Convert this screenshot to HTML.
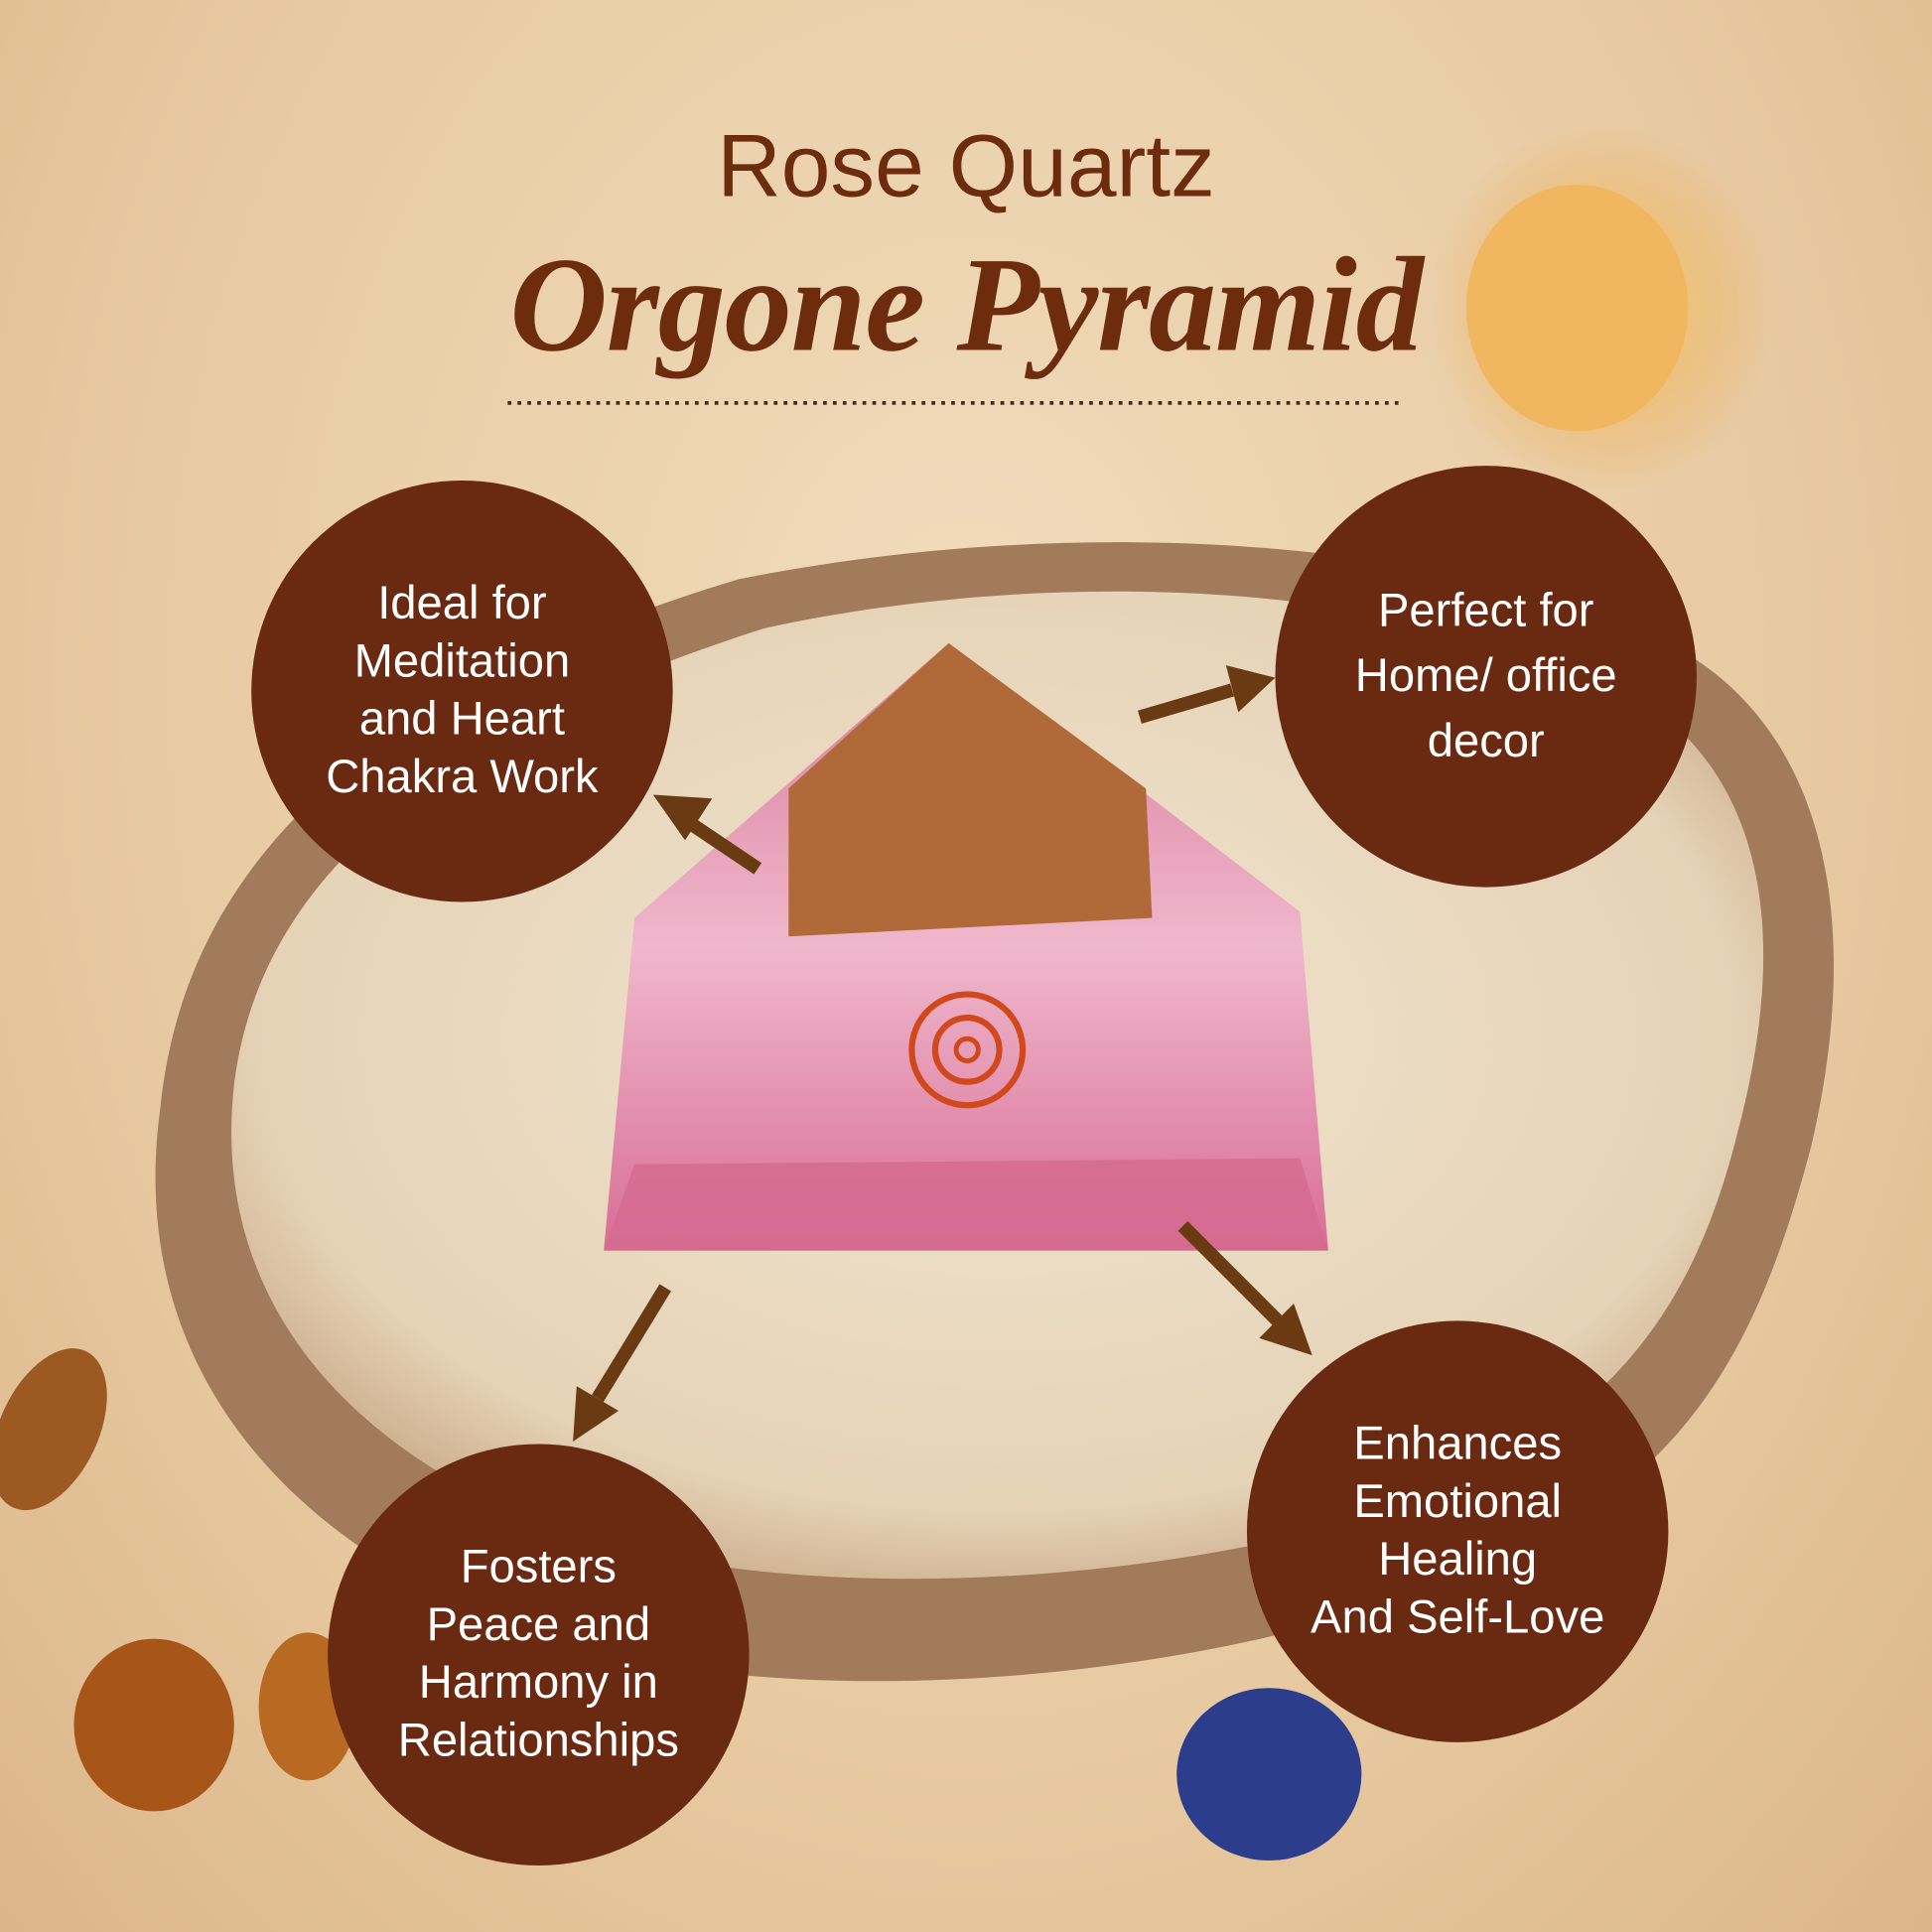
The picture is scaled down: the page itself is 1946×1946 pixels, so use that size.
<!DOCTYPE html>
<html><head><meta charset="utf-8"><style>
html,body{margin:0;padding:0;width:1946px;height:1946px;overflow:hidden;background:#e9cca6}
#s{position:absolute;left:0;top:0;width:1568px;height:1568px;transform:scale(1.24107);transform-origin:0 0;
background:radial-gradient(ellipse at 50% 35%,#f1dcbc 0%,#e8caa2 60%,#dcb68a 100%);font-family:"Liberation Sans",sans-serif}
.c{position:absolute;width:342px;height:342px;border-radius:50%;background:#6a2a12;color:#fff;display:flex;align-items:center;justify-content:center;text-align:center;font-size:38px;line-height:47px}
</style></head><body><div id="s">
<svg width="1568" height="1568" style="position:absolute;left:0;top:0">
<defs>
<radialGradient id="w" cx="50%" cy="45%" r="60%"><stop offset="0" stop-color="#f0e4d0"/><stop offset="0.8" stop-color="#e6d3b6"/><stop offset="1" stop-color="#c9a886"/></radialGradient>
<linearGradient id="p" x1="0" y1="0" x2="0" y2="1"><stop offset="0" stop-color="#d77a9a"/><stop offset="0.5" stop-color="#f0b8cc"/><stop offset="1" stop-color="#d86e95"/></linearGradient>
<radialGradient id="g" cx="50%" cy="50%" r="50%"><stop offset="0" stop-color="#ffd070"/><stop offset="1" stop-color="#e8a040" stop-opacity="0"/></radialGradient>
</defs>
<path d="M130 900 C150 700 300 560 600 470 C850 420 1150 430 1350 520 C1490 590 1510 760 1470 930 C1420 1120 1350 1240 1100 1310 C900 1370 600 1390 420 1320 C250 1260 100 1120 130 900Z" fill="#a27a5c"/>
<path d="M190 880 C210 720 340 600 620 510 C850 460 1130 470 1320 560 C1440 630 1450 770 1410 920 C1370 1080 1290 1180 1080 1240 C880 1290 620 1300 450 1240 C290 1180 170 1060 190 880Z" fill="url(#w)"/>
<ellipse cx="1300" cy="250" rx="140" ry="150" fill="url(#g)"/>
<ellipse cx="1280" cy="250" rx="90" ry="100" fill="#f1b760"/>
<ellipse cx="125" cy="1400" rx="65" ry="70" fill="#a8551a"/>
<ellipse cx="250" cy="1385" rx="40" ry="60" fill="#b86a22"/>
<ellipse cx="1030" cy="1440" rx="75" ry="70" fill="#2c3d8c"/>
<ellipse cx="40" cy="1160" rx="40" ry="70" fill="#9c5a22" transform="rotate(25 40 1160)"/>
<polygon points="770,522 515,745 490,1015 1078,1015 1055,740" fill="url(#p)"/>
<polygon points="770,522 640,640 640,760 935,745 930,640" fill="#b06a3a"/>
<polygon points="490,1015 1078,1015 1055,940 515,945" fill="#d56a8e" opacity="0.8"/>
<circle cx="785" cy="852" r="45" fill="none" stroke="#d2481d" stroke-width="5"/>
<circle cx="785" cy="852" r="26" fill="none" stroke="#d2481d" stroke-width="5"/>
<circle cx="785" cy="852" r="9" fill="none" stroke="#d2481d" stroke-width="4"/>
<g stroke="#6a3a12" stroke-width="11" fill="#6a3a12">
<line x1="615" y1="705" x2="560" y2="668"/><polygon points="530,645 578,648 556,682" stroke="none"/>
<line x1="925" y1="582" x2="1000" y2="560"/><polygon points="1035,550 995,540 1005,578" stroke="none"/>
<line x1="540" y1="1045" x2="485" y2="1135"/><polygon points="465,1170 468,1125 502,1145" stroke="none"/>
<line x1="960" y1="995" x2="1038" y2="1073"/><polygon points="1065,1100 1022,1086 1050,1058" stroke="none"/>
</g>
<line x1="412" y1="327" x2="1140" y2="327" stroke="#4a2a1a" stroke-width="3" stroke-dasharray="3 5"/>
</svg>
<div style="position:absolute;left:0;width:1568px;top:94px;text-align:center;font-size:72px;color:#6e2c0e;padding-left:0px">Rose Quartz</div>
<div style="position:absolute;left:0;width:1568px;top:184px;text-align:center;font-size:110px;color:#6e2c0e;font-style:italic;font-weight:bold;font-family:'Liberation Serif',serif;letter-spacing:-1px">Orgone Pyramid</div>
<div class="c" style="left:204px;top:390px">Ideal for<br>Meditation<br>and Heart<br>Chakra Work</div>
<div class="c" style="left:1035px;top:378px;line-height:53px">Perfect for<br>Home/ office<br>decor</div>
<div class="c" style="left:266px;top:1172px">Fosters<br>Peace and<br>Harmony in<br>Relationships</div>
<div class="c" style="left:1012px;top:1072px">Enhances<br>Emotional<br>Healing<br>And Self-Love</div>
</div></body></html>
